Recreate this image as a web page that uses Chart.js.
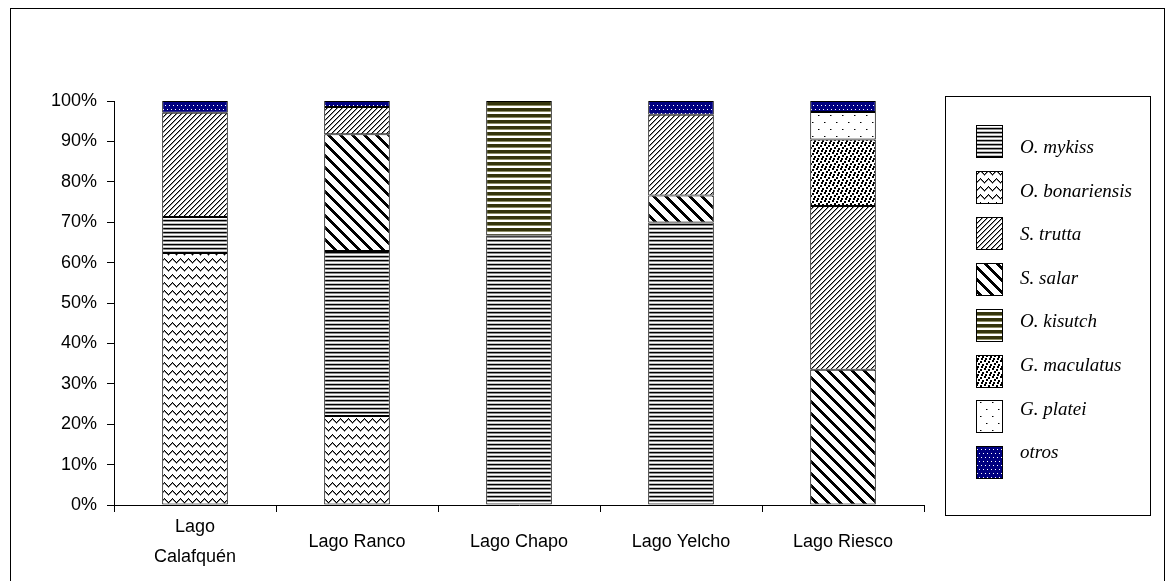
<!DOCTYPE html>
<html>
<head>
<meta charset="utf-8">
<title>Composición de especies por lago</title>
<script src="https://cdn.jsdelivr.net/npm/chart.js@4.4.1/dist/chart.umd.min.js"></script>
<style>
  html, body { margin: 0; padding: 0; background: #fff; }
  #wrap { width: 1167px; height: 581px; }
</style>
</head>
<body>
<div id="wrap"><canvas id="chart" width="1167" height="581"></canvas></div>
<script>
// Lakes (categories) and the share (%) of each species in each lake
const lakes = [['Lago', 'Calafquén'], 'Lago Ranco', 'Lago Chapo', 'Lago Yelcho', 'Lago Riesco'];
const oBonariensis = [62.4, 22.0, 0, 0, 0];
const oMykiss      = [8.9, 40.9, 66.7, 69.9, 0];
const sSalar       = [0, 28.9, 0, 6.7, 33.5];
const sTrutta      = [25.8, 6.7, 0, 20.0, 40.5];
const oKisutch     = [0, 0, 33.3, 0, 0];
const gMaculatus   = [0, 0, 0, 0, 16.5];
const gPlatei      = [0, 0, 0, 0, 6.8];
const otros        = [2.9, 1.5, 0, 3.4, 2.7];
const percentTicks = [0, 10, 20, 30, 40, 50, 60, 70, 80, 90, 100];

// Order in which species are listed in the legend box
const legendOrder = ['O. mykiss', 'O. bonariensis', 'S. trutta', 'S. salar',
                     'O. kisutch', 'G. maculatus', 'G. platei', 'otros'];

// ---- monochrome fill patterns -------------------------------------------
function tile(w, h, paint, bg = '#fff') {
  const c = document.createElement('canvas');
  c.width = w; c.height = h;
  const g = c.getContext('2d');
  g.fillStyle = bg; g.fillRect(0, 0, w, h);
  paint(g);
  return g.createPattern(c, 'repeat');
}
function px(g, color, x, y, w = 1, h = 1) { g.fillStyle = color; g.fillRect(x, y, w, h); }

const patterns = {
  // dense horizontal lines
  mykiss: tile(4, 4, g => {
    px(g, '#000', 0, 0, 4, 1);
    px(g, '#8c8c8c', 0, 1, 4, 1);
    px(g, '#c4c4c4', 0, 3, 4, 1);
  }),
  // zig-zag waves
  bonariensis: tile(8, 8, g => {
    const ys = [6, 5, 4, 3, 2, 3, 4, 5];
    ys.forEach((y, x) => { px(g, '#000', x, y); px(g, '#808080', x, y + 1); });
  }),
  // narrow forward diagonals
  trutta: tile(5, 5, g => {
    for (let i = 0; i < 5; i++) { px(g, '#000', i, 4 - i); px(g, '#909090', (i + 1) % 5, 4 - i); }
  }),
  // wide backward diagonals
  salar: tile(12, 12, g => {
    for (let y = 0; y < 12; y++) for (let k = 0; k < 4; k++) px(g, '#000', (y + k) % 12, y);
  }),
  // olive horizontal bands
  kisutch: tile(6, 6, g => {
    px(g, '#34340c', 0, 0, 6, 3);
    px(g, '#8e8e66', 0, 3, 6, 1);
  }),
  // large confetti
  maculatus: tile(8, 8, g => {
    [[0, 0], [4, 1], [2, 3], [6, 4], [1, 6], [5, 6]].forEach(([x, y]) => px(g, '#000', x, y, 2, 2));
  }),
  // sparse dots
  platei: tile(12, 14, g => {
    px(g, '#000', 2, 3); px(g, '#888', 3, 3);
    px(g, '#000', 8, 10); px(g, '#888', 9, 10);
  }),
  // navy with white dots
  otros: tile(4, 8, g => {
    px(g, '#fff', 1, 1); px(g, '#fff', 3, 5);
  }, '#000080')
};

const nz = arr => arr.map(v => (v === 0 ? null : v));

function series(label, values, fill) {
  return {
    label, data: nz(values), backgroundColor: fill,
    borderColor: '#000', borderWidth: 1, borderSkipped: false, inflateAmount: 0,
    barPercentage: 0.405, categoryPercentage: 1
  };
}

// stacking order, bottom to top
const datasets = [
  series('O. bonariensis', oBonariensis, patterns.bonariensis),
  series('O. mykiss', oMykiss, patterns.mykiss),
  series('S. salar', sSalar, patterns.salar),
  series('S. trutta', sTrutta, patterns.trutta),
  series('O. kisutch', oKisutch, patterns.kisutch),
  series('G. maculatus', gMaculatus, patterns.maculatus),
  series('G. platei', gPlatei, patterns.platei),
  series('otros', otros, patterns.otros)
];

// white page with the outer frame
const pageFrame = {
  id: 'pageFrame',
  beforeDraw(chart) {
    const ctx = chart.ctx;
    ctx.save();
    ctx.fillStyle = '#fff';
    ctx.fillRect(0, 0, chart.width, chart.height);
    ctx.strokeStyle = '#000';
    ctx.lineWidth = 1;
    ctx.strokeRect(10.5, 8.5, 1154, 600);
    ctx.restore();
  }
};

// boxed legend on the right
const speciesLegend = {
  id: 'speciesLegend',
  afterDraw(chart) {
    const ctx = chart.ctx;
    ctx.save();
    ctx.strokeStyle = '#000';
    ctx.lineWidth = 1;
    ctx.strokeRect(945.5, 96.5, 205, 419);
    ctx.font = 'italic 19px "Liberation Serif", "DejaVu Serif", serif';
    ctx.textBaseline = 'middle';
    ctx.textAlign = 'left';
    legendOrder.forEach((name, i) => {
      const ds = chart.data.datasets.find(d => d.label === name);
      const sy = Math.round(125 + i * 45.9);
      ctx.fillStyle = ds.backgroundColor;
      ctx.fillRect(976, sy, 27, 33);
      ctx.strokeStyle = '#000';
      ctx.strokeRect(976.5, sy + 0.5, 26, 32);
      ctx.fillStyle = '#000';
      ctx.fillText(name, 1020, 148 + i * 43.6);
    });
    ctx.restore();
  }
};

new Chart(document.getElementById('chart'), {
  type: 'bar',
  data: { labels: lakes, datasets },
  options: {
    responsive: false,
    animation: false,
    layout: { padding: { left: 0, top: 101, right: 243, bottom: 0 } },
    plugins: { legend: { display: false }, tooltip: { enabled: false } },
    scales: {
      x: {
        stacked: true,
        grid: { display: true, drawOnChartArea: false, drawTicks: true, tickLength: 7, color: '#000', offset: true },
        border: { display: true, color: '#000', width: 1 },
        ticks: {
          color: '#000', padding: 15, crossAlign: 'center', maxRotation: 0, autoSkip: false,
          font: { family: '"Liberation Sans", Arial, sans-serif', size: 18, lineHeight: 1.65 }
        },
        afterFit(scale) { scale.height = 76; }
      },
      y: {
        stacked: true, min: 0, max: 100,
        afterBuildTicks(scale) { scale.ticks = percentTicks.map(v => ({ value: v })); },
        grid: { display: true, drawOnChartArea: false, drawTicks: true, tickLength: 7, color: '#000' },
        border: { display: true, color: '#000', width: 1 },
        ticks: {
          color: '#000', padding: 10,
          font: { family: '"Liberation Sans", Arial, sans-serif', size: 18 },
          callback: v => v + '%'
        },
        afterFit(scale) { scale.width = 114; }
      }
    }
  },
  plugins: [pageFrame, speciesLegend]
});
</script>
</body>
</html>
